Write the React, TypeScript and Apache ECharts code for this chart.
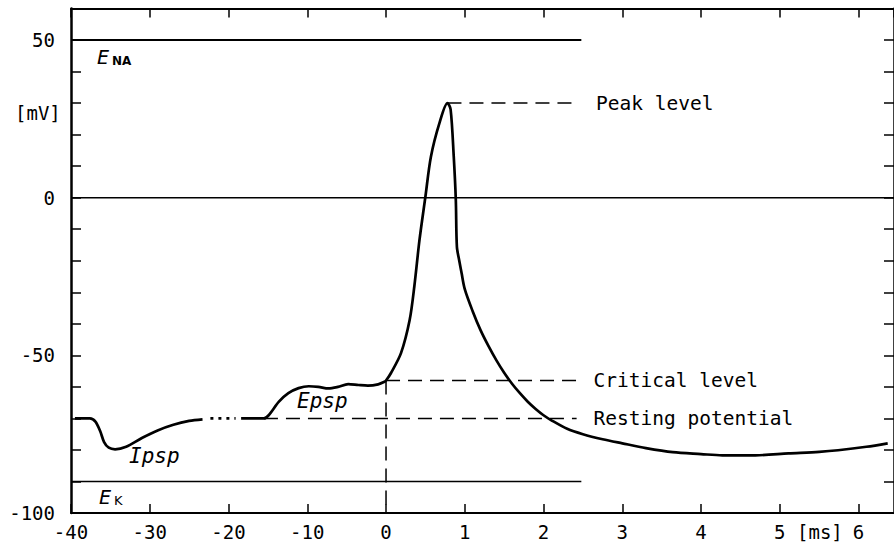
import React, { useEffect, useRef } from "react";
import * as echarts from "echarts";

// ---- data (time in ms for t>=0; left part plotted on a 10x compressed scale) ----
const IPSP_T = [-39.5, -37.6, -36.9, -36.3, -35.8, -35.2, -34.4, -33.0, -31.0, -29.0, -27.0, -25.0, -23.3];
const IPSP_V = [-70, -70, -71, -74, -77.5, -79.3, -79.8, -79.0, -76.2, -73.8, -72.0, -70.8, -70.3];

const GAP_T = [-22.3, -19.1];
const GAP_V = [-70, -70];

const MAIN_T = [
  -18.4, -15.5, -14.9, -13.6, -12.4, -11.1, -9.8, -8.6, -7.3, -6.1, -4.8, -3.5, -2.3, -1.0, -0.2, 0,
  0.063, 0.19, 0.3, 0.36, 0.425, 0.5, 0.57, 0.68, 0.78,
  0.82, 0.86, 0.886, 0.9, 0.93, 0.96, 1.0, 1.1, 1.2, 1.3, 1.4, 1.5, 1.6, 1.7, 1.8, 1.9, 2.0, 2.1,
  2.3, 2.5, 2.75, 3.0, 3.3, 3.64, 4.0, 4.27, 4.69, 5.11, 5.5, 5.74, 6.1, 6.37,
];
const MAIN_V = [
  -70, -70, -69, -64.7, -62, -60.4, -59.8, -60, -60.5, -60, -59.1, -59.4, -59.6, -59.2, -58.4, -58,
  -55.6, -49.3, -38.8, -28, -13.4, 0.3, 13, 23.8, 30,
  28, 13, -0.6, -15.6, -20, -24, -29, -36, -42, -47, -51.5, -55.5, -59, -62, -64.7, -67, -69, -70.6,
  -73.3, -75, -76.6, -77.9, -79.4, -80.7, -81.3, -81.7, -81.7, -81.1, -80.6, -80.1, -79, -77.9,
];

const E_NA = 50;
const E_K = -90;
const PEAK_LEVEL = 30;
const PEAK_T = 0.78;
const CRITICAL_LEVEL = -58;
const RESTING_LEVEL = -70;
const RESTING_START_T = -15.5;
const REF_END_T = 2.48;
const DASH_END_T = 2.42;
const X_MIN_T = -40;
const X_MAX_AXIS = 6.45;
const Y_MIN = -100;
const Y_MAX = 60;
const Y_LABELS = [50, 0, -50, -100];

const toAxis = (t: number) => (t < 0 ? t / 10 : t);
const fromAxis = (u: number) => (u < 0 ? Math.round(u * 10) : Math.round(u));
const pts = (ts: number[], vs: number[]) => ts.map((t, i) => [toAxis(t), vs[i]]);

const FONT = "DejaVu Sans Mono";

export default function App() {
  const ref = useRef<HTMLDivElement>(null);
  useEffect(() => {
    if (!ref.current) return;
    const chart = echarts.init(ref.current, null, { renderer: "svg" });
    const black = "#000";
    const curve = { color: black, width: 2.7 };
    const solidRef = (data: number[][], width: number, name: string) => ({
      type: "line", name, data, symbol: "none", silent: true,
      lineStyle: { color: black, width }, z: 2,
    });
    const dashed = (data: number[][], name: string, label?: string) => ({
      type: "line", name, data, symbol: "none", silent: true,
      lineStyle: { color: black, width: 1.5, type: [14, 8] }, z: 2,
      endLabel: label
        ? { show: true, formatter: label, distance: 17, color: black, fontFamily: FONT, fontSize: 19.5 }
        : { show: false },
    });
    const xBase = {
      type: "value", min: toAxis(X_MIN_T), max: X_MAX_AXIS, interval: 1,
      splitLine: { show: false },
      axisLine: { onZero: false, lineStyle: { color: black, width: 2 } },
      axisTick: { inside: true, length: 9, lineStyle: { color: black, width: 1.5 } },
    };
    const yBase = {
      type: "value", min: Y_MIN, max: Y_MAX, interval: 10,
      splitLine: { show: false },
      axisLine: { show: true, onZero: false, lineStyle: { color: black, width: 2.5 } },
      axisTick: { show: true, inside: true, length: 10, lineStyle: { color: black, width: 1.5 } },
    };
    chart.setOption({
      animation: false,
      backgroundColor: "#fff",
      grid: { left: 71, top: 8.5, right: -6, bottom: 37, containLabel: false },
      xAxis: [
        {
          ...xBase, position: "bottom",
          axisLabel: {
            color: black, fontFamily: FONT, fontSize: 19, margin: 9, showMaxLabel: false,
            formatter: (u: number) => (Number.isInteger(Math.round(u * 100) / 100) ? String(fromAxis(u)) : ""),
          },
        },
        { ...xBase, position: "top", axisLabel: { show: false } },
      ],
      yAxis: [
        {
          ...yBase, position: "left",
          axisLabel: {
            color: black, fontFamily: FONT, fontSize: 19, margin: 16,
            formatter: (v: number) => (Y_LABELS.includes(v) ? String(v) : ""),
          },
        },
        { ...yBase, position: "right", axisLabel: { show: false } },
      ],
      series: [
        solidRef([[toAxis(X_MIN_T), E_NA], [toAxis(REF_END_T), E_NA]], 2, "E_NA"),
        solidRef([[toAxis(X_MIN_T), 0], [X_MAX_AXIS, 0]], 1.5, "zero"),
        solidRef([[toAxis(X_MIN_T), E_K], [toAxis(REF_END_T), E_K]], 1.5, "E_K"),
        dashed([[toAxis(PEAK_T), PEAK_LEVEL], [toAxis(DASH_END_T + 0.03), PEAK_LEVEL]], "peak", "Peak level"),
        dashed([[0, CRITICAL_LEVEL], [toAxis(DASH_END_T), CRITICAL_LEVEL]], "critical", "Critical level"),
        dashed([[toAxis(RESTING_START_T), RESTING_LEVEL], [toAxis(DASH_END_T), RESTING_LEVEL]], "resting", "Resting potential"),
        dashed([[0, CRITICAL_LEVEL], [0, Y_MIN]], "vertical"),
        {
          type: "line", name: "ipsp", data: pts(IPSP_T, IPSP_V), symbol: "none", smooth: 0.3,
          lineStyle: curve, z: 3, silent: true,
        },
        {
          type: "line", name: "gap", data: pts(GAP_T, GAP_V), symbol: "none",
          lineStyle: { color: black, width: 2.7, type: [3, 5] }, z: 3, silent: true,
        },
        {
          type: "line", name: "main", data: pts(MAIN_T, MAIN_V), symbol: "none", smooth: 0.3,
          lineStyle: curve, z: 3, silent: true,
        },
      ],
      graphic: [
        { type: "text", left: 15, top: 103, style: { text: "[mV]", fontFamily: FONT, fontSize: 19, fill: black } },
        { type: "text", left: 797, top: 522, style: { text: "[ms]", fontFamily: FONT, fontSize: 19, fill: black } },
        { type: "text", left: 97, top: 47, style: { text: "E", fontFamily: FONT, fontStyle: "italic", fontSize: 20, fill: black } },
        { type: "text", left: 112, top: 55, style: { text: "NA", fontFamily: "DejaVu Sans", fontWeight: "bold", fontSize: 12, fill: black } },
        { type: "text", left: 99, top: 487, style: { text: "E", fontFamily: FONT, fontStyle: "italic", fontSize: 20, fill: black } },
        { type: "text", left: 114, top: 494, style: { text: "K", fontFamily: "DejaVu Sans", fontSize: 13, fill: black } },
        { type: "text", left: 129, top: 445, style: { text: "Ipsp", fontFamily: FONT, fontStyle: "italic", fontSize: 21, fill: black } },
        { type: "text", left: 297, top: 390, style: { text: "Epsp", fontFamily: FONT, fontStyle: "italic", fontSize: 21, fill: black } },
      ],
    });
    return () => chart.dispose();
  }, []);
  return (
    <div
      ref={ref}
      style={{ position: "absolute", left: 0, top: 0, width: 894, height: 550, background: "#fff" }}
    />
  );
}
